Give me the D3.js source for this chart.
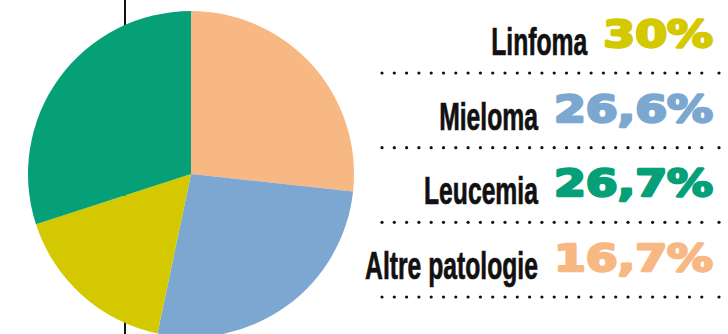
<!DOCTYPE html>
<html>
<head>
<meta charset="utf-8">
<script src="https://cdn.jsdelivr.net/npm/d3@7"></script>
<style>
  html, body { margin: 0; padding: 0; background: #fff; }
  svg { display: block; }
</style>
</head>
<body>
<svg id="chart" width="728" height="334"></svg>
<script>
// Share of patients by disease
const categories = ["Linfoma", "Mieloma", "Leucemia", "Altre patologie"];
const values = [30, 26.6, 26.7, 16.7];
const valueLabels = ["30%", "26,6%", "26,7%", "16,7%"];
const labelColors = ["#d4c800", "#7ba7d0", "#05a077", "#f8b884"];

// Pie slices, clockwise from twelve o'clock
const sliceCategories = ["Leucemia", "Mieloma", "Altre patologie", "Linfoma"];
const sliceColors = ["#f8b884", "#7ba7d0", "#d4c800", "#05a077"];

const svg = d3.select("#chart");
const W = 728, H = 334;

// thin vertical rule behind the pie
svg.append("line")
  .attr("x1", 125).attr("x2", 125)
  .attr("y1", 0).attr("y2", H)
  .attr("stroke", "#111").attr("stroke-width", 2);

// pie
const cx = 191, cy = 174, r = 163;
const sliceData = sliceCategories.map((c, i) => ({
  name: c,
  value: values[categories.indexOf(c)],
  color: sliceColors[i]
}));
const pie = d3.pie().sort(null).value(d => d.value);
const arc = d3.arc().innerRadius(0).outerRadius(r);
svg.append("g")
  .attr("transform", `translate(${cx},${cy})`)
  .selectAll("path")
  .data(pie(sliceData))
  .join("path")
  .attr("d", arc)
  .attr("fill", d => d.data.color);

// legend rows
const rowY = d3.scalePoint().domain(categories).range([73, 297]);
const dotX = d3.range(382, 704, 12.3).concat([719]);
const numRight = 713;
const gap = 16;
const numScale = 1.24;
const nameScale = 0.65;

const rows = svg.append("g").selectAll("g")
  .data(categories)
  .join("g")
  .attr("transform", d => `translate(0,${rowY(d)})`);

rows.each(function(name, i) {
  const g = d3.select(this);
  // dotted separator
  g.selectAll("circle")
    .data(dotX)
    .join("circle")
    .attr("cx", d => d)
    .attr("cy", 0)
    .attr("r", 1.6)
    .attr("fill", "#111");

  // percentage, heavy wide figures
  const num = g.append("text")
    .attr("font-family", "'DejaVu Sans', sans-serif")
    .attr("font-weight", "bold")
    .attr("font-size", 37)
    .attr("fill", labelColors[i])
    .attr("stroke", labelColors[i])
    .attr("stroke-width", 2.4)
    .attr("stroke-linejoin", "round")
    .attr("text-anchor", "end")
    .attr("transform", `translate(${numRight},-26) scale(${numScale},1)`)
    .text(valueLabels[i]);
  const numW = num.node().getComputedTextLength() * numScale;

  // category name, condensed
  g.append("text")
    .attr("font-family", "'Liberation Sans', sans-serif")
    .attr("font-weight", "bold")
    .attr("font-size", 38)
    .attr("fill", "#111")
    .attr("stroke", "#111")
    .attr("stroke-width", 0.7)
    .attr("text-anchor", "end")
    .attr("transform", `translate(${numRight - numW - gap},-18) scale(${nameScale},1)`)
    .text(name);
});
</script>
</body>
</html>
